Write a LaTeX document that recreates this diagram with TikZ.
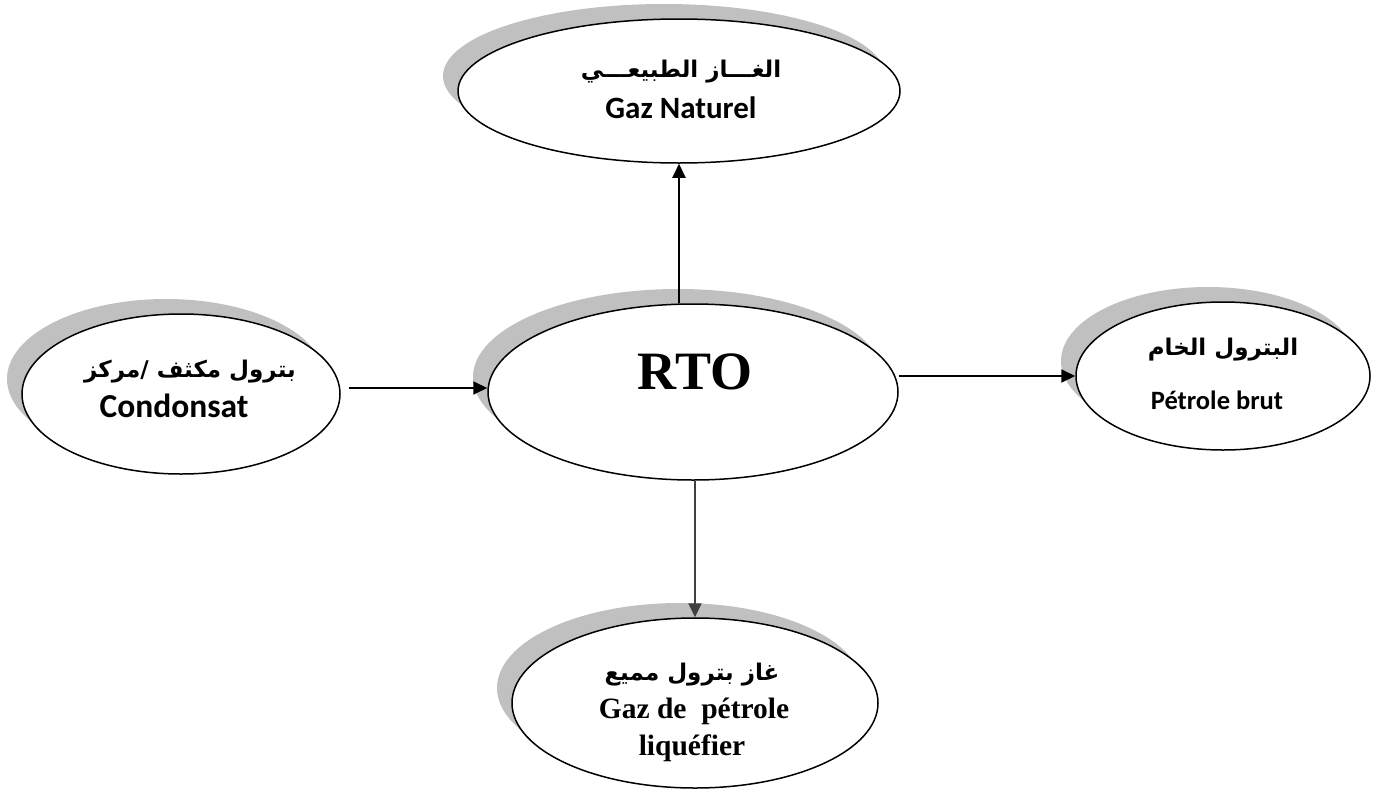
\documentclass[tikz,border=0pt]{standalone}
\usepackage{fontspec}
\usetikzlibrary{arrows.meta,shadows,shapes.geometric}
\TeXXeTstate=1
\newfontfamily\arabicfont[Script=Arabic]{DejaVu Sans}
\newfontfamily\carl{Carlito}
\newfontfamily\tnr{Liberation Serif}
\definecolor{shadowgray}{HTML}{C0C0C0}
\begin{document}
\begin{tikzpicture}[x=1pt,y=-1pt,
  bubble/.style={draw=black, line width=1.5pt, fill=white, ellipse, inner sep=0pt,
    drop shadow={shadow xshift=-15pt, shadow yshift=15pt, fill=shadowgray, opacity=1}},
  flow/.style={line width=2pt, -{Triangle[length=14pt,width=13pt]}},
  artxt/.style={font=\arabicfont\bfseries\fontsize{23}{25}\selectfont, inner sep=0pt},
  caltxt/.style={font=\carl\bfseries\fontsize{31}{33}\selectfont, inner sep=0pt},
  tnrtxt/.style={font=\tnr\bfseries\fontsize{29.5}{31}\selectfont, inner sep=0pt, align=center}
]
\useasboundingbox (0,0) rectangle (1386,798);

\node[bubble, minimum width=442pt, minimum height=144pt] (gaz) at (679,91) {};
\node[bubble, minimum width=410pt, minimum height=176pt] (rto) at (693,392) {};
\node[bubble, minimum width=318pt, minimum height=160pt] (cond) at (181,394) {};
\node[bubble, minimum width=294pt, minimum height=148pt] (brut) at (1223,376) {};
\node[bubble, minimum width=366pt, minimum height=170pt] (lpg) at (695,703) {};

\node[artxt] (gazar) at (681,72) {\beginR الغـــاز الطبيعـــي\endR};
\node[caltxt] (gazfr) at (681,108) {Gaz Naturel};

\node[font=\tnr\bfseries\fontsize{54}{56}\selectfont, inner sep=0pt] (rtotxt) at (695,372) {RTO};

\node[artxt] (condar) at (190,372) {\beginR بترول مكثف /مركز\endR};
\node[caltxt, font=\carl\bfseries\fontsize{33.5}{35}\selectfont] (condfr) at (174,406) {Condonsat};

\node[artxt] (brutar) at (1223,350) {\beginR البترول الخام\endR};
\node[caltxt, font=\carl\bfseries\fontsize{26.5}{28}\selectfont] (brutfr) at (1217,400) {Pétrole brut};

\node[artxt] (lpgar) at (692,675) {\beginR غاز بترول مميع\endR};
\node[tnrtxt] (lpgfr1) at (694,711) {Gaz de\ \ pétrole};
\node[tnrtxt] (lpgfr2) at (692,748) {liquéfier};

\draw[flow] (rto.north -| gaz.south) -- (gaz.south);
\draw[flow, black!75] (rto.south -| lpg.north) -- (lpg.north);
\coordinate (lstart) at ([xshift=8pt,yshift=6pt]cond.east);
\draw[flow] (lstart) -- (lstart -| rto.west);
\draw[flow] (rto.east |- brut.west) -- (brut.west);
\end{tikzpicture}
\end{document}
